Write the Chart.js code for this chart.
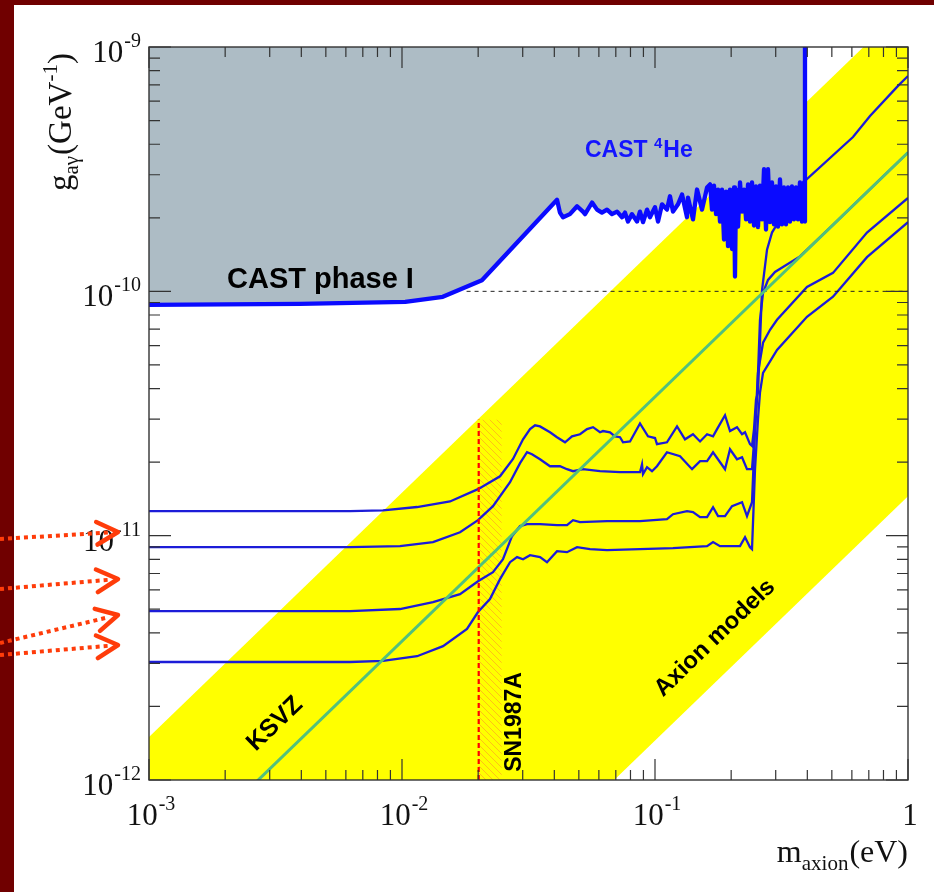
<!DOCTYPE html>
<html lang="en">
<head>
<meta charset="UTF-8">
<title>Axion-photon coupling limits</title>
<script src="https://cdn.jsdelivr.net/npm/chart.js"></script>
<style>
  html, body { margin: 0; padding: 0; background: #700000; }
  #wrap { position: relative; width: 934px; height: 892px; }
</style>
</head>
<body>
<div id="wrap"><canvas id="axionChart"></canvas></div>
<script>
// m_axion in eV (x), g_agamma in GeV^-1 (y)
const massTicks = [1e-3, 1e-2, 1e-1, 1];
const massTickLabels = [['10', '-3'], ['10', '-2'], ['10', '-1'], ['1', '']];
const couplingTicks = [1e-12, 1e-11, 1e-10, 1e-9];
const couplingTickLabels = [['10', '-12'], ['10', '-11'], ['10', '-10'], ['10', '-9']];

// yellow "Axion models" band edges
const bandUpper = [[1e-3, 1.5e-12], [1, 1.5e-9]];
const bandLower = [[1e-3, 1.45e-14], [1, 1.45e-11]];
// KSVZ model line
const ksvz = [[1e-3, 3.7e-13], [1, 3.7e-10]];
// SN1987A bound
const sn1987aLine = [[0.0201, 1e-12], [0.0201, 2.98e-11]];
const sn1987aBand = [[0.0201, 2.98e-11], [0.0248, 2.98e-11]];
// reference line at 1e-10
const refLine = [[0.018, 1e-10], [1, 1e-10]];

// CAST phase I + 4He exclusion limit
const castLimit = [
  [1.0e-3, 8.8e-11], [3.95e-3, 8.89e-11], [1.03e-2, 9.06e-11], [1.45e-2, 9.5e-11],
  [2.07e-2, 1.11e-10], [0.0410, 2.37e-10], [0.0421, 2.10e-10], [0.0433, 2.01e-10],
  [0.0461, 2.07e-10], [0.0492, 2.23e-10], [0.0519, 2.12e-10], [0.0529, 2.07e-10],
  [0.0564, 2.31e-10], [0.0590, 2.16e-10], [0.0617, 2.10e-10], [0.0646, 2.16e-10],
  [0.0676, 2.07e-10], [0.0708, 2.12e-10], [0.0741, 2.01e-10], [0.0761, 2.10e-10],
  [0.0782, 1.93e-10], [0.0811, 2.07e-10], [0.0849, 1.93e-10], [0.0872, 2.12e-10],
  [0.0897, 1.92e-10], [0.0930, 2.16e-10], [0.0955, 2.01e-10], [0.1000, 2.21e-10],
  [0.1028, 1.93e-10], [0.1066, 2.27e-10], [0.1115, 2.16e-10], [0.1146, 2.45e-10],
  [0.1178, 2.12e-10], [0.1233, 2.27e-10], [0.1279, 2.49e-10], [0.1338, 2.01e-10],
  [0.1350, 2.42e-10], [0.1413, 1.97e-10], [0.1466, 2.61e-10], [0.1534, 2.16e-10],
  [0.1606, 2.66e-10], [0.1650, 2.74e-10], [0.1680, 2.16e-10], [0.1711, 2.71e-10],
  [0.1743, 2.07e-10], [0.1775, 2.61e-10], [0.1807, 1.93e-10], [0.1840, 2.61e-10],
  [0.1874, 1.63e-10], [0.1909, 2.56e-10], [0.1944, 1.53e-10], [0.1979, 2.61e-10],
  [0.2016, 1.49e-10], [0.2053, 2.66e-10], [0.2071, 1.15e-10], [0.2090, 2.61e-10],
  [0.2129, 1.84e-10], [0.2168, 2.79e-10], [0.2208, 2.12e-10], [0.2248, 2.61e-10],
  [0.2290, 1.97e-10], [0.2332, 2.74e-10], [0.2374, 1.93e-10], [0.2418, 2.79e-10],
  [0.2462, 1.86e-10], [0.2507, 2.69e-10], [0.2553, 1.83e-10], [0.2600, 2.71e-10],
  [0.2648, 1.97e-10], [0.2697, 3.16e-10], [0.2746, 1.79e-10], [0.2797, 3.16e-10],
  [0.2848, 1.92e-10], [0.2900, 2.79e-10], [0.2953, 1.88e-10], [0.3008, 2.69e-10],
  [0.3063, 1.84e-10], [0.3119, 2.87e-10], [0.3176, 1.88e-10], [0.3234, 2.66e-10],
  [0.3294, 1.88e-10], [0.3354, 2.66e-10], [0.3416, 1.93e-10], [0.3478, 2.69e-10],
  [0.3542, 1.97e-10], [0.3607, 2.66e-10], [0.3673, 1.97e-10], [0.3741, 2.79e-10],
  [0.3809, 1.93e-10], [0.3879, 2.79e-10], [0.3916, 1.93e-10], [0.3916, 1e-9]
];

// projected sensitivity curves (top to bottom)
const curve1 = [
  [1e-3, 1.26e-11], [6.23e-3, 1.26e-11], [8.41e-3, 1.27e-11], [1.147e-2, 1.31e-11],
  [1.548e-2, 1.38e-11], [1.997e-2, 1.55e-11], [2.44e-2, 1.75e-11], [2.747e-2, 2.06e-11],
  [3.009e-2, 2.48e-11], [3.207e-2, 2.73e-11], [3.356e-2, 2.83e-11], [3.512e-2, 2.80e-11],
  [3.846e-2, 2.65e-11], [4.099e-2, 2.53e-11], [4.409e-2, 2.41e-11], [4.699e-2, 2.55e-11],
  [5.054e-2, 2.60e-11], [5.386e-2, 2.73e-11], [5.689e-2, 2.78e-11], [6.062e-2, 2.65e-11],
  [6.23e-2, 2.68e-11], [6.64e-2, 2.65e-11], [6.95e-2, 2.55e-11], [7.274e-2, 2.53e-11],
  [7.475e-2, 2.41e-11], [7.967e-2, 2.43e-11], [8.724e-2, 2.88e-11], [9.383e-2, 2.55e-11],
  [0.1000, 2.51e-11], [0.1018, 2.37e-11], [0.1115, 2.41e-11], [0.1222, 2.80e-11],
  [0.1314, 2.48e-11], [0.1413, 2.60e-11], [0.1507, 2.43e-11], [0.1606, 2.60e-11],
  [0.1696, 2.55e-11], [0.1759, 2.73e-11], [0.1891, 3.11e-11], [0.1979, 2.68e-11],
  [0.2109, 2.78e-11], [0.2208, 2.60e-11], [0.2269, 2.65e-11], [0.2374, 2.37e-11],
  [0.2418, 2.33e-11], [0.2462, 2.73e-11], [0.2507, 3.60e-11], [0.2553, 3.85e-11],
  [0.2648, 1.01e-10], [0.2772, 1.48e-10], [0.2900, 1.74e-10], [0.3063, 1.91e-10],
  [0.3576, 2.27e-10], [0.3952, 2.86e-10], [0.6062, 4.28e-10], [0.7077, 5.22e-10],
  [0.9131, 6.93e-10], [1.0, 7.61e-10]
];
const curve2 = [
  [1e-3, 8.97e-12], [6.23e-3, 8.97e-12], [9.82e-3, 9.06e-12], [1.326e-2, 9.41e-12],
  [1.696e-2, 1.033e-11], [1.997e-2, 1.157e-11], [2.289e-2, 1.32e-11], [2.673e-2, 1.655e-11],
  [2.928e-2, 1.98e-11], [3.121e-2, 2.195e-11], [3.265e-2, 2.154e-11], [3.512e-2, 2.055e-11],
  [3.846e-2, 1.924e-11], [4.212e-2, 1.924e-11], [4.49e-2, 1.871e-11], [4.742e-2, 1.836e-11],
  [5.19e-2, 1.871e-11], [6.062e-2, 1.836e-11], [7.274e-2, 1.819e-11], [8.724e-2, 1.819e-11],
  [8.885e-2, 1.96e-11], [8.967e-2, 1.785e-11], [9.299e-2, 1.906e-11], [9.73e-2, 1.836e-11],
  [0.1018, 1.924e-11], [0.1115, 2.195e-11], [0.1256, 2.114e-11], [0.1401, 1.871e-11],
  [0.1507, 2.017e-11], [0.1606, 2.017e-11], [0.1696, 2.195e-11], [0.1891, 1.871e-11],
  [0.1979, 2.258e-11], [0.2109, 2.055e-11], [0.2208, 2.095e-11], [0.2310, 1.871e-11],
  [0.2418, 1.871e-11], [0.2485, 2.73e-11], [0.2530, 3.60e-11], [0.2600, 7.65e-11],
  [0.2673, 9.86e-11], [0.2797, 1.114e-10], [0.2981, 1.20e-10], [0.3742, 1.39e-10],
  [0.5054, 1.87e-10], [0.7077, 2.62e-10], [1.0, 3.7e-10]
];
const curve3 = [
  [1e-3, 4.91e-12], [6.23e-3, 4.91e-12], [9.82e-3, 5.01e-12], [1.326e-2, 5.35e-12],
  [1.696e-2, 5.76e-12], [1.997e-2, 6.51e-12], [2.289e-2, 7.09e-12], [2.507e-2, 8.01e-12],
  [2.722e-2, 9.95e-12], [2.928e-2, 1.094e-11], [3.121e-2, 1.114e-11], [3.512e-2, 1.114e-11],
  [4.099e-2, 1.104e-11], [4.49e-2, 1.104e-11], [4.742e-2, 1.157e-11], [5.054e-2, 1.136e-11],
  [6.461e-2, 1.146e-11], [8.724e-2, 1.146e-11], [0.1115, 1.168e-11], [0.1178, 1.224e-11],
  [0.1338, 1.259e-11], [0.1413, 1.248e-11], [0.1507, 1.19e-11], [0.1606, 1.19e-11],
  [0.1696, 1.308e-11], [0.1775, 1.202e-11], [0.1891, 1.202e-11], [0.2016, 1.32e-11],
  [0.2208, 1.371e-11], [0.2310, 1.202e-11], [0.2418, 1.371e-11], [0.2485, 2.73e-11],
  [0.2553, 4.64e-11], [0.2673, 6.16e-11], [0.2849, 6.96e-11], [0.3036, 7.65e-11],
  [0.3988, 1.043e-10], [0.5054, 1.19e-10], [0.6885, 1.74e-10], [1.0, 2.41e-10]
];
const curve4 = [
  [1e-3, 3.04e-12], [6.23e-3, 3.04e-12], [8.41e-3, 3.07e-12], [1.147e-2, 3.21e-12],
  [1.453e-2, 3.53e-12], [1.807e-2, 4.15e-12], [1.997e-2, 4.87e-12], [2.227e-2, 5.50e-12],
  [2.44e-2, 6.64e-12], [2.673e-2, 7.79e-12], [2.849e-2, 8.17e-12], [3.009e-2, 8.01e-12],
  [3.207e-2, 8.32e-12], [3.512e-2, 8.17e-12], [3.742e-2, 7.79e-12], [4.099e-2, 8.64e-12],
  [4.49e-2, 8.56e-12], [4.918e-2, 8.97e-12], [5.535e-2, 8.81e-12], [6.461e-2, 8.72e-12],
  [8.724e-2, 8.81e-12], [0.1178, 8.89e-12], [0.1606, 9.06e-12], [0.1696, 9.41e-12],
  [0.1807, 9.06e-12], [0.2168, 9.06e-12], [0.2269, 9.86e-12], [0.2374, 8.97e-12],
  [0.2418, 8.81e-12], [0.2485, 1.871e-11], [0.2553, 3.0e-11], [0.2600, 3.85e-11],
  [0.2673, 4.64e-11], [0.3036, 5.76e-11], [0.3988, 7.87e-11], [0.5054, 9.5e-11],
  [0.6885, 1.38e-10], [1.0, 1.92e-10]
];

const SERIF = '"Liberation Serif", "DejaVu Serif", serif';
const SANS = '"Liberation Sans", Arial, sans-serif';
const BLUE = '#1c1cd8';

function hatchPattern() {
  const c = document.createElement('canvas');
  c.width = 7; c.height = 7;
  const g = c.getContext('2d');
  g.strokeStyle = 'rgba(255,150,40,0.6)';
  g.lineWidth = 1;
  g.beginPath(); g.moveTo(-1, -1); g.lineTo(8, 8); g.stroke();
  return g.createPattern(c, 'repeat');
}

function lineSet(data, color, width, extra) {
  return Object.assign({
    data: data, showLine: true, borderColor: color, borderWidth: width,
    pointRadius: 0, fill: false, clip: 0
  }, extra || {});
}

const datasets = [
  lineSet(bandUpper, 'rgba(0,0,0,0)', 0, { fill: '+1', backgroundColor: '#ffff00' }),
  lineSet(bandLower, 'rgba(0,0,0,0)', 0),
  lineSet(sn1987aBand, 'rgba(0,0,0,0)', 0, { fill: 'start', backgroundColor: hatchPattern() }),
  lineSet(curve1, BLUE, 2.3),
  lineSet(curve2, BLUE, 2.3),
  lineSet(curve3, BLUE, 2.3),
  lineSet(curve4, BLUE, 2.3),
  lineSet(castLimit, '#0a0aff', 4.3, { fill: 'end', backgroundColor: '#adbcc5', borderJoinStyle: 'round' }),
  lineSet(refLine, '#222', 1, { borderDash: [4, 4] }),
  lineSet(ksvz, '#52c07c', 3),
  lineSet(sn1987aLine, '#ff0000', 2.2, { borderDash: [5, 3] })
];
datasets.forEach((d, i) => { d.order = 50 - i; });

function supText(ctx, base, exp, x, y, size, supSize, rise) {
  ctx.font = size + 'px ' + SERIF;
  ctx.fillText(base, x, y);
  const w = ctx.measureText(base).width;
  ctx.font = supSize + 'px ' + SERIF;
  ctx.fillText(exp, x + w + 1, y - rise);
}
function supWidth(ctx, base, exp, size, supSize) {
  ctx.font = size + 'px ' + SERIF;
  const w = ctx.measureText(base).width;
  ctx.font = supSize + 'px ' + SERIF;
  return w + (exp ? 1 + ctx.measureText(exp).width : 0);
}

// orange pointer arrows at the left edge (pixel annotations)
const pointerArrows = [
  [0, 539, 118, 532], [0, 589, 118, 579], [0, 643, 118, 615], [0, 655, 118, 645]
];

const rootStyle = {
  id: 'rootStyle',
  beforeDraw(chart) {
    const ctx = chart.ctx;
    ctx.save();
    ctx.fillStyle = '#700000';
    ctx.fillRect(0, 0, chart.width, chart.height);
    ctx.fillStyle = '#ffffff';
    ctx.fillRect(14, 5, chart.width - 14, chart.height - 5);
    ctx.restore();
  },
  afterDatasetsDraw(chart) {
    const { ctx, chartArea: a, scales: { x, y } } = chart;
    ctx.save();

    // frame
    ctx.strokeStyle = '#333';
    ctx.lineWidth = 1.4;
    ctx.strokeRect(a.left, a.top, a.right - a.left, a.bottom - a.top);

    // ticks on all four sides
    ctx.lineWidth = 1.2;
    ctx.beginPath();
    massTicks.forEach((d, i) => {
      const px = x.getPixelForValue(d);
      ctx.moveTo(px, a.bottom); ctx.lineTo(px, a.bottom - 21);
      ctx.moveTo(px, a.top); ctx.lineTo(px, a.top + 21);
      if (i < massTicks.length - 1) {
        for (let k = 2; k <= 9; k++) {
          const mx = x.getPixelForValue(k * d);
          ctx.moveTo(mx, a.bottom); ctx.lineTo(mx, a.bottom - 10);
          ctx.moveTo(mx, a.top); ctx.lineTo(mx, a.top + 10);
        }
      }
    });
    couplingTicks.forEach((d, i) => {
      const py = y.getPixelForValue(d);
      ctx.moveTo(a.left, py); ctx.lineTo(a.left + 22, py);
      ctx.moveTo(a.right, py); ctx.lineTo(a.right - 22, py);
      if (i < couplingTicks.length - 1) {
        for (let k = 2; k <= 9; k++) {
          const my = y.getPixelForValue(k * d);
          ctx.moveTo(a.left, my); ctx.lineTo(a.left + 11, my);
          ctx.moveTo(a.right, my); ctx.lineTo(a.right - 11, my);
        }
      }
    });
    ctx.stroke();

    // tick labels
    ctx.fillStyle = '#111';
    ctx.textAlign = 'left';
    ctx.textBaseline = 'alphabetic';
    massTicks.forEach((d, i) => {
      const [base, exp] = massTickLabels[i];
      const px = x.getPixelForValue(d);
      const w = supWidth(ctx, base, exp, 31, 20);
      supText(ctx, base, exp, px + 2 - w / 2, a.bottom + 45, 31, 20, 15);
    });
    couplingTicks.forEach((d, i) => {
      const [base, exp] = couplingTickLabels[i];
      const py = y.getPixelForValue(d);
      const w = supWidth(ctx, base, exp, 31, 20);
      supText(ctx, base, exp, a.left - 8 - w, py + 15, 31, 20, 15);
    });

    // axis titles
    let cx = 0;
    ctx.font = '32px ' + SERIF;
    const wm = ctx.measureText('m').width;
    const wpar = ctx.measureText('(eV)').width;
    ctx.font = '21px ' + SERIF;
    const wsub = ctx.measureText('axion').width;
    cx = a.right - (wm + wsub + wpar + 1);
    ctx.font = '32px ' + SERIF;
    ctx.fillText('m', cx, 862);
    ctx.font = '21px ' + SERIF;
    ctx.fillText('axion', cx + wm, 870);
    ctx.font = '32px ' + SERIF;
    ctx.fillText('(eV)', cx + wm + wsub + 1, 862);

    ctx.save();
    ctx.translate(71, 191);
    ctx.rotate(-Math.PI / 2);
    cx = 0;
    ctx.font = '33px ' + SERIF;
    ctx.fillText('g', cx, 0); cx += ctx.measureText('g').width;
    ctx.font = '21px ' + SERIF;
    ctx.fillText('a\u03b3', cx, 7); cx += ctx.measureText('a\u03b3').width + 1;
    ctx.font = '33px ' + SERIF;
    ctx.fillText('(GeV', cx, 0); cx += ctx.measureText('(GeV').width;
    ctx.font = '21px ' + SERIF;
    ctx.fillText('-1', cx, -14); cx += ctx.measureText('-1').width;
    ctx.font = '33px ' + SERIF;
    ctx.fillText(')', cx, 0);
    ctx.restore();

    // annotations inside the frame
    ctx.save();
    ctx.beginPath();
    ctx.rect(a.left, a.top, a.right - a.left, a.bottom - a.top);
    ctx.clip();
    ctx.fillStyle = '#000';
    ctx.font = 'bold 29px ' + SANS;
    ctx.fillText('CAST phase I', 227, 288);

    ctx.fillStyle = '#1414ff';
    ctx.font = 'bold 23px ' + SANS;
    ctx.fillText('CAST ', 585, 157);
    let hx = 585 + ctx.measureText('CAST ').width;
    ctx.font = 'bold 15px ' + SANS;
    ctx.fillText('4', hx, 148);
    hx += ctx.measureText('4').width + 1;
    ctx.font = 'bold 23px ' + SANS;
    ctx.fillText('He', hx, 157);

    ctx.fillStyle = '#000';
    ctx.textAlign = 'center';
    ctx.textBaseline = 'middle';
    const ang = Math.atan2(y.getPixelForValue(1e-10) - y.getPixelForValue(1e-12),
                           x.getPixelForValue(1e-1) - x.getPixelForValue(1e-3));
    [['KSVZ', 275, 724, 25], ['Axion models', 715, 638, 24]].forEach(([t, tx, ty, fs]) => {
      ctx.save();
      ctx.translate(tx, ty);
      ctx.rotate(ang);
      ctx.font = 'bold ' + fs + 'px ' + SANS;
      ctx.fillText(t, 0, 0);
      ctx.restore();
    });
    ctx.save();
    ctx.translate(515, 722);
    ctx.rotate(-Math.PI / 2);
    ctx.font = 'bold 23px ' + SANS;
    ctx.fillText('SN1987A', 0, 0);
    ctx.restore();
    ctx.restore();

    // pointer arrows
    ctx.strokeStyle = '#ff3c0a';
    pointerArrows.forEach(([x0, y0, x1, y1]) => {
      const ux = x1 - x0, uy = y1 - y0, len = Math.hypot(ux, uy);
      const dx = ux / len, dy = uy / len;
      ctx.lineWidth = 4;
      ctx.lineCap = 'butt';
      ctx.setLineDash([4, 4]);
      ctx.beginPath();
      ctx.moveTo(x0, y0);
      ctx.lineTo(x1 - dx * 10, y1 - dy * 10);
      ctx.stroke();
      ctx.setLineDash([]);
      ctx.lineWidth = 4.5;
      ctx.lineCap = 'round';
      ctx.lineJoin = 'round';
      const th = 0.49, al = 24;
      const a1 = Math.atan2(-dy, -dx);
      ctx.beginPath();
      ctx.moveTo(x1 + al * Math.cos(a1 + th), y1 + al * Math.sin(a1 + th));
      ctx.lineTo(x1, y1);
      ctx.lineTo(x1 + al * Math.cos(a1 - th), y1 + al * Math.sin(a1 - th));
      ctx.stroke();
    });

    ctx.restore();
  }
};

new Chart(document.getElementById('axionChart'), {
  type: 'scatter',
  data: { datasets: datasets },
  options: {
    responsive: true,
    maintainAspectRatio: false,
    animation: false,
    events: [],
    layout: { padding: { left: 149, top: 47, right: 26, bottom: 112 } },
    scales: {
      x: { type: 'logarithmic', min: 1e-3, max: 1, display: false },
      y: { type: 'logarithmic', min: 1e-12, max: 1e-9, display: false }
    },
    elements: { line: { tension: 0 }, point: { radius: 0 } },
    plugins: { legend: { display: false }, tooltip: { enabled: false } }
  },
  plugins: [rootStyle]
});
</script>
</body>
</html>
